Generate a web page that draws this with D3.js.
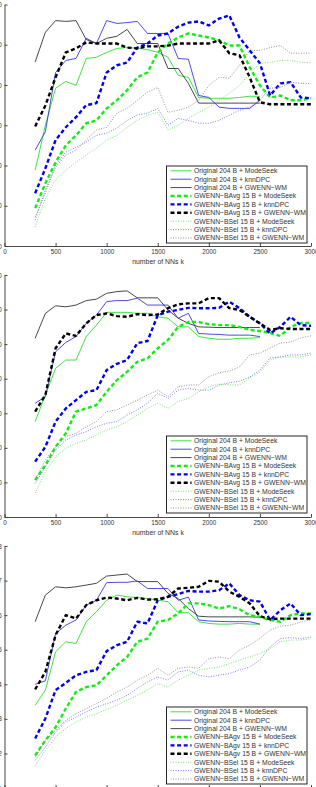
<!DOCTYPE html>
<html>
<head>
<meta charset="utf-8">
<script src="https://cdnjs.cloudflare.com/ajax/libs/d3/7.8.5/d3.min.js"></script>
<style>
  body{margin:0;background:#fff;}
  svg{display:block;}
  text{font-family:"Liberation Sans",Arial,sans-serif;fill:#333;}
</style>
</head>
<body>
<div id="display"></div>
<script>
// number of nearest neighbours k
var kValues = [300,400,500,600,700,800,900,1000,1100,1200,1300,1400,1500,1600,1700,1800,1900,2000,2100,2200,2300,2400,2500,2600,2700,2800,2900,3000]
var xTicks = [0,500,1000,1500,2000,2500,3000]

var legendA = ['Original 204 B + ModeSeek','Original 204 B + knnDPC','Original 204 B + GWENN\u2212WM',
  'GWENN\u2212BAvg 15 B + ModeSeek','GWENN\u2212BAvg 15 B + knnDPC','GWENN\u2212BAvg 15 B + GWENN\u2212WM',
  'GWENN\u2212BSel 15 B + ModeSeek','GWENN\u2212BSel 15 B + knnDPC','GWENN\u2212BSel 15 B + GWENN\u2212WM']
var legendB = ['Original 204 B + ModeSeek','Original 204 B + knnDPC','Original 204 B + GWENN\u2212WM',
  'GWENN\u2212BAgv 15 B + ModeSeek','GWENN\u2212BAgv 15 B + knnDPC','GWENN\u2212BAgv 15 B + GWENN\u2212WM',
  'GWENN\u2212BSel 15 B + ModeSeek','GWENN\u2212BSel 15 B + knnDPC','GWENN\u2212BSel 15 B + GWENN\u2212WM']

// panel 1
var p1Ticks = [20,30,40,50,60,70,80]
var p1OrigMode = [38.8,50.0,59.2,60.9,59.9,66.6,66.9,68.1,69.1,69.3,69.1,68.8,68.1,66.9,62.4,61.9,56.9,56.7,56.7,56.7,56.9,57.2,57.2]
var p1OrigKnn = [43.8,48.4,63.1,66.1,66.6,71.6,70.3,76.0,75.3,75.5,75.8,72.8,72.8,72.8,66.6,66.4,57.4,56.9,54.5,54.2,54.2,54.2,56.2]
var p1OrigWM = [65.7,73.1,76.0,75.8,76.0,71.3,70.3,71.6,72.1,73.8,70.3,70.3,70.3,64.1,64.1,60.4,55.5,55.5,55.5,55.5,55.5,55.5,55.5]
var p1AvgMode = [29.4,35.6,40.8,45.0,47.5,50.5,51.2,54.2,56.2,58.7,61.9,63.1,68.1,70.3,71.8,72.8,72.3,71.8,71.1,69.8,69.8,64.4,59.9,56.9,57.4,56.2,56.2,56.7]
var p1AvgKnn = [33.1,39.3,46.3,49.5,52.0,55.0,55.5,63.1,64.9,65.6,69.3,70.3,72.3,72.8,74.5,75.5,75.8,74.8,76.5,77.3,71.8,68.6,65.4,57.4,60.4,60.7,56.9,56.7]
var p1AvgWM = [49.7,54.9,61.9,68.1,69.1,70.6,70.3,70.3,70.3,69.3,69.1,69.6,69.6,69.8,70.3,70.3,70.3,70.3,71.1,67.9,67.4,61.9,55.7,55.2,55.2,55.2,55.2,55.2]
var p1SelMode = [24.7,31.9,36.4,38.8,40.8,42.6,44.3,46.3,47.5,49.5,51.2,52.5,53.2,48.8,50.0,51.7,53.2,54.5,56.2,57.9,59.9,62.9,65.4,65.6,66.1,66.1,65.6,65.6]
var p1SelKnn = [27.2,33.1,40.1,43.3,44.5,45.8,47.5,48.0,49.3,51.2,52.5,53.0,54.2,50.0,51.7,51.2,50.5,50.5,51.2,52.5,53.7,54.5,56.2,59.2,59.4,60.7,60.4,60.4]
var p1SelWM = [26.4,33.9,39.6,42.6,43.8,46.3,48.8,49.5,53.0,54.2,56.2,58.2,59.4,53.2,53.7,54.5,56.2,59.9,61.9,61.7,64.9,68.6,68.6,69.3,69.8,67.9,67.9,67.9]

// panel 2
var p2Ticks = [10,20,30,40,50,60,70,80]
var p2OrigMode = [37.6,45.3,53.0,55.4,55.4,62.2,65.5,69.2,69.2,69.2,68.9,68.9,67.9,67.5,65.0,65.0,62.2,61.7,61.4,61.4,61.7,61.7,61.9]
var p2OrigKnn = [42.9,44.8,57.8,60.5,62.2,66.0,68.4,72.3,72.6,72.6,73.3,71.3,71.3,71.3,67.5,68.9,63.1,62.9,62.8,62.6,62.6,62.6,62.2]
var p2OrigWM = [61.7,68.9,71.1,70.8,71.3,72.6,73.0,74.7,75.2,75.4,73.4,73.4,73.4,69.9,67.5,66.0,65.0,64.9,64.8,64.8,64.8,64.8,64.8]
var p2AvgMode = [20.7,25.0,30.3,34.2,40.5,41.4,42.4,46.2,49.6,52.0,54.9,55.9,58.8,61.2,65.0,66.4,66.4,65.8,65.5,65.5,65.0,64.1,63.8,63.2,62.4,65.0,66.1,66.1]
var p2AvgKnn = [26.0,30.3,37.6,41.4,43.8,46.2,46.7,52.5,54.3,55.4,60.3,60.9,68.4,69.4,69.9,70.5,70.4,70.4,70.5,72.3,70.4,67.9,66.0,63.1,65.0,67.9,65.5,65.3]
var p2AvgWM = [40.5,45.3,58.8,63.1,62.4,66.0,68.4,68.9,68.1,67.9,68.7,68.4,68.6,70.4,71.5,71.8,71.8,73.3,73.3,70.4,69.9,67.9,66.0,64.1,64.6,64.4,64.4,64.4]
var p2SelMode = [16.9,23.1,27.4,29.9,31.3,32.3,33.7,35.2,36.1,37.6,39.5,41.4,42.9,41.4,43.4,44.3,46.2,47.6,48.5,48.2,48.2,50.2,51.9,55.4,56.3,56.3,56.3,56.9]
var p2SelKnn = [19.7,24.5,29.4,32.3,33.7,34.7,36.1,37.1,37.6,39.5,41.0,42.9,45.8,44.3,46.7,47.2,46.7,46.7,48.2,48.8,49.3,50.5,52.5,56.0,56.3,56.9,56.9,57.4]
var p2SelWM = [20.7,26.5,30.3,33.2,34.2,36.1,37.6,40.5,41.0,42.4,43.8,45.3,46.7,44.8,47.7,48.2,48.2,50.6,51.7,52.2,53.4,56.9,57.4,58.9,60.3,60.6,61.8,62.4]

// panel 3
var p3Ticks = [0.1,0.2,0.3,0.4,0.5,0.6,0.7,0.8]
var p3OrigMode = [0.339,0.383,0.494,0.523,0.518,0.581,0.610,0.643,0.658,0.653,0.651,0.648,0.643,0.639,0.607,0.607,0.581,0.576,0.574,0.574,0.576,0.574,0.574]
var p3OrigKnn = [0.400,0.410,0.547,0.571,0.586,0.629,0.643,0.694,0.695,0.695,0.699,0.677,0.677,0.677,0.643,0.652,0.586,0.583,0.582,0.581,0.581,0.581,0.574]
var p3OrigWM = [0.581,0.658,0.682,0.679,0.682,0.687,0.692,0.713,0.716,0.719,0.697,0.697,0.697,0.663,0.648,0.619,0.597,0.595,0.595,0.595,0.595,0.595,0.594]
var p3AvgMode = [0.194,0.238,0.276,0.330,0.378,0.392,0.397,0.426,0.455,0.479,0.523,0.532,0.581,0.586,0.605,0.634,0.634,0.629,0.619,0.626,0.617,0.600,0.595,0.586,0.581,0.600,0.605,0.605]
var p3AvgKnn = [0.243,0.301,0.383,0.404,0.426,0.436,0.441,0.496,0.513,0.523,0.581,0.576,0.643,0.653,0.661,0.670,0.668,0.668,0.672,0.692,0.658,0.643,0.639,0.586,0.614,0.634,0.600,0.603]
var p3AvgWM = [0.385,0.436,0.542,0.600,0.590,0.629,0.643,0.651,0.648,0.643,0.650,0.645,0.646,0.653,0.677,0.679,0.682,0.699,0.697,0.668,0.653,0.634,0.597,0.588,0.590,0.590,0.590,0.590]
var p3SelMode = [0.165,0.209,0.247,0.272,0.291,0.305,0.315,0.327,0.339,0.354,0.368,0.383,0.402,0.392,0.412,0.426,0.441,0.446,0.450,0.460,0.470,0.479,0.489,0.503,0.523,0.528,0.528,0.532]
var p3SelKnn = [0.180,0.218,0.262,0.291,0.305,0.320,0.334,0.344,0.354,0.368,0.388,0.407,0.421,0.412,0.436,0.441,0.426,0.421,0.426,0.431,0.441,0.450,0.470,0.508,0.532,0.535,0.532,0.537]
var p3SelWM = [0.189,0.238,0.267,0.296,0.315,0.330,0.344,0.359,0.378,0.392,0.412,0.426,0.446,0.426,0.446,0.450,0.446,0.474,0.479,0.474,0.499,0.513,0.533,0.557,0.568,0.571,0.580,0.586]

// line styles, same order as the legend
var styles = [
  {color:'#2edc2e', width:0.9, dash:null},
  {color:'#3838e0', width:0.9, dash:null},
  {color:'#333333', width:0.9, dash:null},
  {color:'#11ee11', width:2.4, dash:'4,2.6'},
  {color:'#0000ee', width:2.4, dash:'4,2.6'},
  {color:'#000000', width:2.4, dash:'4,2.6'},
  {color:'#66e066', width:0.9, dash:'1,1.5'},
  {color:'#6f6fe6', width:0.9, dash:'1,1.5'},
  {color:'#888888', width:0.9, dash:'1,1.5'}
]

var W = 316, H = 787
var svg = d3.select('#display').append('svg').attr('width',W).attr('height',H)
var x = d3.scaleLinear().domain([0,3000]).range([4.5,311])

function drawPanel(p){
  var g = svg.append('g')
  var y = d3.scaleLinear().domain(d3.extent(p.ticks)).range([p.bottom,p.top])
  var line = d3.line()
    .x(function(d){ return x(d[0]) })
    .y(function(d){ return y(d[1]) })

  p.series.forEach(function(s,i){
    var st = styles[i]
    var pts = s.map(function(v,j){ return [kValues[j],v] })
    var path = g.append('path').datum(pts)
      .attr('d',line)
      .attr('fill','none')
      .attr('stroke',st.color)
      .attr('stroke-width',st.width)
      .attr('stroke-linejoin','round')
    if (st.dash) path.attr('stroke-dasharray',st.dash)
  })

  // axes, ticks inside like matlab
  var yAxis = d3.axisLeft(y).tickValues(p.ticks).tickSize(-3).tickSizeOuter(0).tickPadding(2.7).tickFormat(p.fmt)
  var ya = g.append('g').attr('transform','translate('+x.range()[0]+',0)').call(yAxis)
  var xAxis = d3.axisBottom(x).tickValues(xTicks).tickSize(-3).tickSizeOuter(0).tickPadding(4).tickFormat(d3.format('d'))
  var xa = g.append('g').attr('transform','translate(0,'+p.bottom+')').call(xAxis)
  ;[ya,xa].forEach(function(a){
    a.select('.domain').attr('stroke','#333').attr('stroke-width',0.9)
    a.selectAll('.tick line').attr('stroke','#333').attr('stroke-width',0.9)
    a.selectAll('.tick text').attr('font-size',6.3).attr('fill','#333')
  })

  g.append('text')
    .attr('x',158).attr('y',p.bottom+17.6)
    .attr('text-anchor','middle')
    .attr('font-size',6.9)
    .text('number of NNs k')

  // legend
  var lg = g.append('g').attr('transform','translate(166.5,'+p.legendTop+')')
  lg.append('rect').attr('width',140.5).attr('height',77)
    .attr('fill','#fff').attr('stroke','#111').attr('stroke-width',0.9)
  p.labels.forEach(function(lab,i){
    var st = styles[i]
    var yy = 4.8 + i*8.4
    var ln = lg.append('line').attr('x1',4).attr('x2',25).attr('y1',yy).attr('y2',yy)
      .attr('stroke',st.color).attr('stroke-width',st.width)
    if (st.dash) ln.attr('stroke-dasharray',st.dash)
    lg.append('text').attr('x',27.5).attr('y',yy).attr('dy','0.36em')
      .attr('font-size',6.8).attr('fill','#222').text(lab)
  })
}

drawPanel({
  top:4.5, bottom:246, legendTop:166, ticks:p1Ticks, fmt:d3.format('d'), labels:legendA,
  series:[p1OrigMode,p1OrigKnn,p1OrigWM,p1AvgMode,p1AvgKnn,p1AvgWM,p1SelMode,p1SelKnn,p1SelWM]
})
drawPanel({
  top:275, bottom:517, legendTop:436, ticks:p2Ticks, fmt:d3.format('d'), labels:legendA,
  series:[p2OrigMode,p2OrigKnn,p2OrigWM,p2AvgMode,p2AvgKnn,p2AvgWM,p2SelMode,p2SelKnn,p2SelWM]
})
drawPanel({
  top:546, bottom:788, legendTop:707, ticks:p3Ticks, fmt:d3.format('.1f'), labels:legendB,
  series:[p3OrigMode,p3OrigKnn,p3OrigWM,p3AvgMode,p3AvgKnn,p3AvgWM,p3SelMode,p3SelKnn,p3SelWM]
})
</script>
</body>
</html>
